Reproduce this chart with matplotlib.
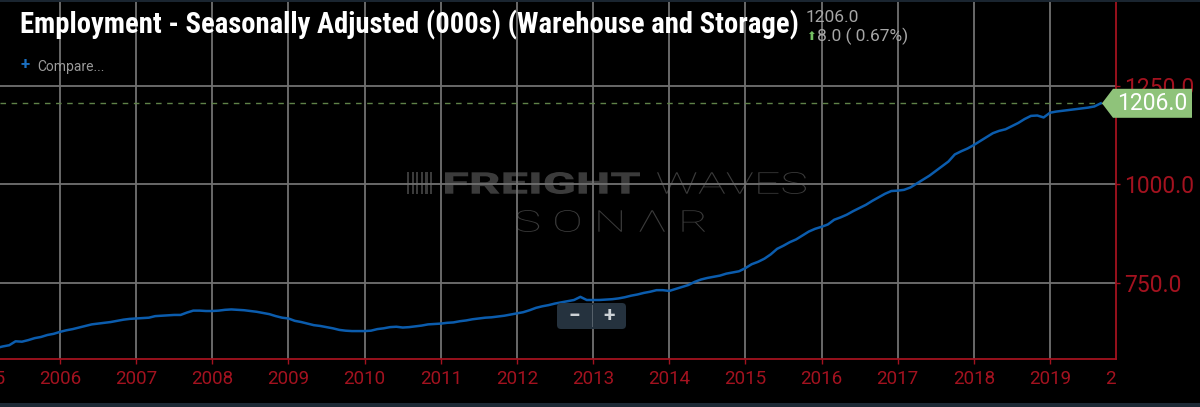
import numpy as np
import matplotlib
matplotlib.use("Agg")
import matplotlib.pyplot as plt
import matplotlib.ticker as mticker
from matplotlib.patches import Polygon, FancyBboxPatch, Rectangle, PathPatch
from matplotlib.textpath import TextPath
from matplotlib.font_manager import FontProperties
from matplotlib.transforms import (Affine2D, IdentityTransform, Bbox, TransformedBbox,
                                   offset_copy)

plt.rcParams['font.family'] = ['Roboto', 'DejaVu Sans']

W, H = 1200, 407

title = "Employment - Seasonally Adjusted (000s) (Warehouse and Storage)"
start_year, start_month = 2005, 3
# monthly values, thousands of jobs (Mar 2005 .. Sep 2019)
employment = [
    584, 588, 591, 601, 600, 604, 609, 612, 617, 620,                # 2005
    625, 629, 632, 636, 640, 644, 646, 648, 650, 653, 656, 658,      # 2006
    659, 660, 661, 665, 666, 667, 668, 668, 674, 679, 679, 678,      # 2007
    678, 679, 681, 682, 681, 680, 678, 676, 673, 670, 665, 661,      # 2008
    659, 653, 650, 646, 642, 640, 637, 634, 630, 628, 627, 627,      # 2009
    627, 628, 632, 634, 637, 638, 636, 637, 639, 641, 644, 645,      # 2010
    646, 648, 649, 652, 654, 657, 659, 661, 662, 664, 666, 669,      # 2011
    672, 675, 680, 686, 690, 693, 697, 700, 703, 706, 714, 706,      # 2012
    706, 706, 707, 708, 710, 713, 717, 720, 724, 727, 731, 731,      # 2013
    729, 734, 739, 744, 752, 758, 762, 765, 768, 773, 776, 779,      # 2014
    787, 797, 803, 811, 822, 836, 844, 853, 860, 870, 880, 887,      # 2015
    892, 898, 910, 916, 923, 932, 940, 948, 958, 967, 976, 983,      # 2016
    984, 986, 992, 1002, 1012, 1022, 1034, 1046, 1058, 1076, 1084, 1091,  # 2017
    1100, 1110, 1120, 1130, 1136, 1140, 1148, 1156, 1166, 1174, 1175, 1170,  # 2018
    1182, 1185, 1187, 1189, 1191, 1193, 1195, 1198, 1206,            # 2019
]
year_ticks = list(range(2005, 2021))
value_ticks = [750, 1000, 1250]
last_value = 1206.0
change = 8.0
change_pct = 0.67

RED = '#a3121f'
GRID = '#717171'
BLUE = '#0b5cad'
GREEN = '#8fc37a'
X0, X1 = 2005.212, 2019.867

months = np.arange(len(employment))
t = start_year + (start_month - 1 + months) / 12.0


def fx(x):
    return x / W


def fy(y):
    return 1 - y / H


fig = plt.figure(figsize=(W / 100, H / 100), dpi=100, facecolor='black')
ax = fig.add_axes([0, 48 / H, 1116 / W, 359 / H])
ax.set_facecolor('none')

ax.plot(t, employment, color=BLUE, lw=1.8, zorder=3)
ax.axhline(last_value, color='#5f8248', lw=1.0, ls=(0, (4, 4)), zorder=2)

ax.set_xticks(year_ticks)
ax.set_xticklabels([str(y) for y in year_ticks])
ax.yaxis.tick_right()
ax.set_yticks(value_ticks)
ax.yaxis.set_major_formatter(mticker.FuncFormatter(lambda v, _: f"{v:.1f}"))
# limits after the ticks, set_xticks widens the view otherwise
ax.set_xlim(X0, X1)
ax.set_ylim(556, 1468.6)

ax.grid(True, color=GRID, lw=1.3, zorder=0)
ax.set_axisbelow(True)
for s in ['left', 'top']:
    ax.spines[s].set_visible(False)
for s in ['right', 'bottom']:
    ax.spines[s].set_color(RED)
    ax.spines[s].set_linewidth(1.3)
ax.tick_params(axis='x', colors=RED, length=3.6, width=1, labelsize=13.5, pad=4.5)
ax.tick_params(axis='y', colors=RED, length=3, width=1, labelsize=16.5, pad=3)

# year labels stop at the right spine; the edge years show only in part
clip = TransformedBbox(Bbox([[0, 0], [1116 / W, 1]]), fig.transFigure)
edge_tr = offset_copy(ax.get_xaxis_transform(), fig=fig, x=0, y=-8.1, units='points')
for yr in year_ticks:
    if yr < X0 or yr > X1:
        ax.text(yr, 0, str(yr), transform=edge_tr, color=RED, fontsize=13.5,
                ha='center', va='top', clip_on=True).set_clip_box(clip)

# last value flag on the right axis
fig.canvas.draw()
px, py = ax.transData.transform((ax.get_xlim()[1], last_value))
flag = Polygon([(px - 14, py), (px - 3, py + 14.5), (px + 76, py + 14.5),
                (px + 76, py - 14.5), (px - 3, py - 14.5)],
               closed=True, fc=GREEN, ec='none', transform=IdentityTransform(), zorder=5)
fig.add_artist(flag)
fig.text(px + 36, py, f"{last_value:.1f}", transform=IdentityTransform(), color='white',
         fontsize=16.5, ha='center', va='center', zorder=6)

# watermark
def fit_text(text, x0, y0, x1, y1, weight, color):
    tp = TextPath((0, 0), text, size=100, prop=FontProperties(family='Roboto', weight=weight))
    ext = tp.get_extents()
    tr = (Affine2D().translate(-ext.x0, -ext.y0)
          .scale((x1 - x0) / ext.width, (y1 - y0) / ext.height)
          .translate(x0, H - y1))
    fig.add_artist(PathPatch(tp, fc=color, ec='none', transform=tr, zorder=-1))

wm = '#3b3b3b'
fit_text("FREIGHT", 445, 172, 640, 194, 'heavy', wm)
fit_text("WAVES", 657, 172, 806, 194, 'light', wm)
fit_text("S O N \u039b R", 516, 210, 705, 232, 'light', wm)
for i in range(6):
    fig.add_artist(Rectangle((407 + i * 4.6, H - 194), 2.2, 22, fc=wm, ec='none',
                             transform=IdentityTransform(), zorder=-1))

# zoom buttons
fig.add_artist(FancyBboxPatch((557, H - 329), 69, 26, boxstyle='round,pad=0,rounding_size=4',
                              fc='#25323e', ec='none', transform=IdentityTransform(), zorder=7))
fig.add_artist(Rectangle((592, H - 327), 1, 22, fc='#55606a', ec='none',
                         transform=IdentityTransform(), zorder=8))
fig.text(fx(574), fy(316), "\u2212", color='#cdd2d6', fontsize=15, weight='bold',
         ha='center', va='center', zorder=8)
fig.text(fx(609), fy(316), "+", color='#cdd2d6', fontsize=15, weight='bold',
         ha='center', va='center', zorder=8)

# header, title stretched to the reference width
ttl = fig.text(fx(20), fy(25), title, color='white', weight='bold', fontsize=17,
               family=['Roboto Condensed', 'Roboto', 'DejaVu Sans'], va='center')
r = fig.canvas.get_renderer()
wt = ttl.get_window_extent(r).width
ttl.set_fontsize(17 * 777 / wt)

fig.text(fx(806), fy(17), f"{last_value:.1f}", color='#a6a6a6', fontsize=12.5, va='center')
fig.text(fx(811), fy(36), "\u2b06", color='#73c062', fontsize=8.5, ha='center', va='center',
         family=['DejaVu Sans'])
fig.text(fx(817), fy(36), f"{change:.1f} ( {change_pct:.2f}%)", color='#a6a6a6',
         fontsize=12.5, va='center')
fig.text(fx(25), fy(64), "+", color='#1a6fc0', fontsize=12, weight='bold', ha='center', va='center')
fig.text(fx(37), fy(67), "Compare...", color='#9a9a9a', fontsize=10, va='center')

# thin frame strips
fig.add_artist(Rectangle((0, H - 2), W, 2, fc='#1a2530', ec='none', transform=IdentityTransform()))
fig.add_artist(Rectangle((0, 0), W, 4, fc='#1d2935', ec='none', transform=IdentityTransform()))

fig.savefig("out.png", dpi=100, facecolor='black')
